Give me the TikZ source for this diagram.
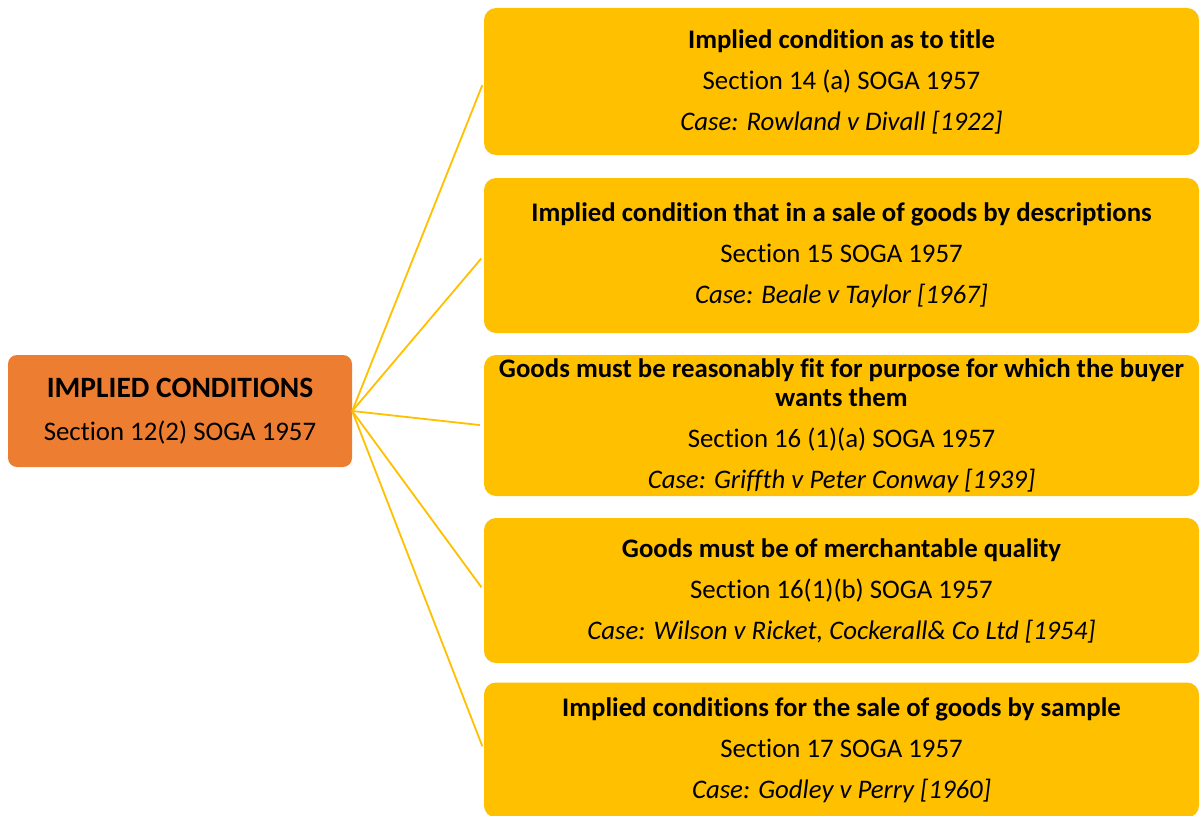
\documentclass[tikz,border=0pt]{standalone}
\usepackage{fontspec}
\setmainfont{Carlito}[Ligatures=NoCommon]
\definecolor{gold}{HTML}{FFC000}
\definecolor{burnt}{HTML}{ED7D31}

\begin{document}
\begin{tikzpicture}[x=1pt, y=-1pt,
    every node/.style={font=\fontsize{26.8}{29}\selectfont, inner sep=0pt, align=center},
    hub/.style={fill=burnt, rounded corners=9pt, minimum width=344pt, minimum height=112pt},
    leaf/.style={fill=gold, rounded corners=12pt, minimum width=715pt},
    link/.style={gold, line width=1.8pt, shorten >=4pt}]
    \useasboundingbox (0,0) rectangle (1200,816);

    \node[hub] (cond) at (180,411) {{\fontsize{29.5}{29}\selectfont\textbf{IMPLIED CONDITIONS}}\\[14pt] Section 12(2) SOGA 1957};

    \node[leaf, minimum height=147pt] (title) at (841.5,81.5)
        {\textbf{Implied condition as to title}\\[12pt] Section 14 (a) SOGA 1957\\[12pt] \textit{Case: Rowland v Divall [1922]}};
    \node[leaf, minimum height=155pt] (descr) at (841.5,255.5)
        {\textbf{Implied condition that in a sale of goods by descriptions}\\[12pt] Section 15 SOGA 1957\\[12pt] \textit{Case: Beale v Taylor [1967]}};
    \node[leaf, minimum height=141pt] (fit) at (841.5,425.5)
        {\textbf{Goods must be reasonably fit for purpose for which the buyer}\\ \textbf{wants them}\\[12pt] Section 16 (1)(a) SOGA 1957\\[12pt] \textit{Case: Griffth v Peter Conway [1939]}};
    \node[leaf, minimum height=145pt] (quality) at (841.5,590.5)
        {\textbf{Goods must be of merchantable quality}\\[12pt] Section 16(1)(b) SOGA 1957\\[12pt] \textit{Case: Wilson v Ricket, Cockerall\& Co Ltd [1954]}};
    \node[leaf, minimum height=135pt] (sample) at (841.5,750)
        {\textbf{Implied conditions for the sale of goods by sample}\\[12pt] Section 17 SOGA 1957\\[12pt] \textit{Case: Godley v Perry [1960]}};

    \draw[link] (cond.east) -- (title.west);
    \draw[link] (cond.east) -- (descr.west);
    \draw[link] (cond.east) -- (fit.west);
    \draw[link] (cond.east) -- (quality.west);
    \draw[link] (cond.east) -- (sample.west);
\end{tikzpicture}
\end{document}
